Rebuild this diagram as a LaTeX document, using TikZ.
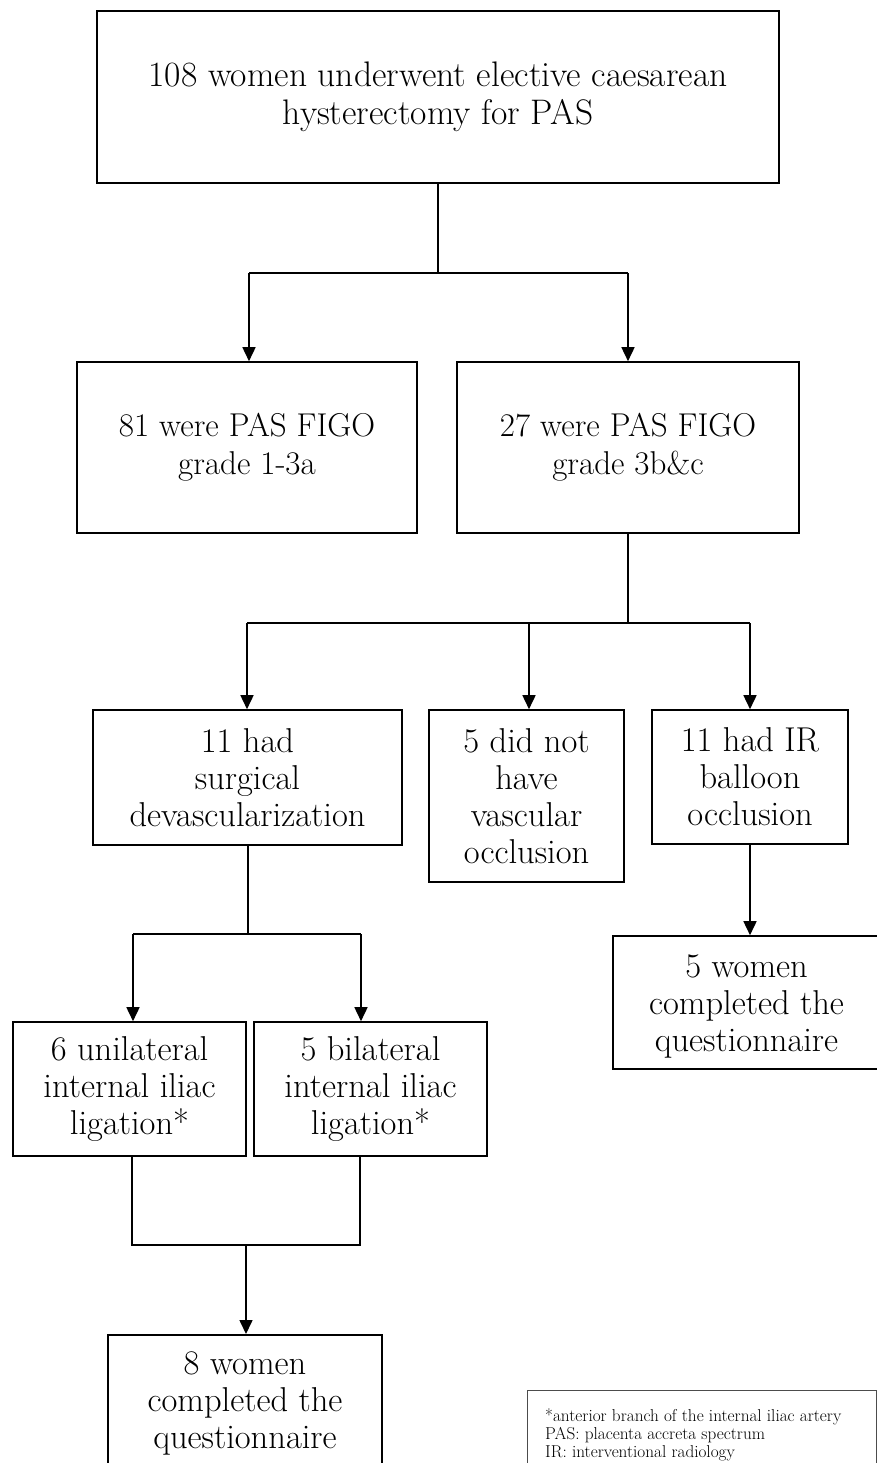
\documentclass[tikz,border=0pt]{standalone}
\usetikzlibrary{arrows.meta}
\begin{document}
\begin{tikzpicture}[x=1pt,y=-1pt,
  box/.style={draw,line width=1.6pt,rectangle,inner sep=0pt,align=center},
  topfont/.style={font=\fontsize{35.5}{38}\selectfont},
  upfont/.style={font=\fontsize{33}{38}\selectfont},
  lowfont/.style={font=\fontsize{34.5}{37}\selectfont},
  conn/.style={line width=1.6pt},
  arr/.style={line width=1.6pt,-{Triangle[length=14pt,width=13pt]}},
  legendbox/.style={draw=black!70,line width=0.8pt,rectangle,inner sep=0pt}]
\useasboundingbox (0,0) rectangle (877,1463);
\clip (0,0) rectangle (877,1463);
\fill[white] (0,0) rectangle (877,1463);
% nodes
\node[box,topfont,minimum width=682pt,minimum height=172pt] (top) at (438,97)
  {108 women underwent elective caesarean\\hysterectomy for PAS};
\node[box,upfont,minimum width=340pt,minimum height=171pt] (A) at (247,447.5)
  {81 were PAS FIGO\\grade 1-3a};
\node[box,upfont,minimum width=342pt,minimum height=171pt] (B) at (628,447.5)
  {27 were PAS FIGO\\grade 3b\&c};
\node[box,lowfont,minimum width=309pt,minimum height=135pt] (C) at (247.5,777.5)
  {11 had\\surgical\\devascularization};
\node[box,lowfont,minimum width=195pt,minimum height=172pt] (D) at (526.5,796)
  {5 did not\\have\\vascular\\occlusion};
\node[box,lowfont,minimum width=196pt,minimum height=134pt] (E) at (750,777)
  {11 had IR\\balloon\\occlusion};
\node[box,lowfont,minimum width=233pt,minimum height=134pt] (F) at (129.5,1089)
  {6 unilateral\\internal iliac\\ligation*};
\node[box,lowfont,minimum width=233pt,minimum height=134pt] (G) at (370.5,1089)
  {5 bilateral\\internal iliac\\ligation*};
\node[box,minimum width=274pt,minimum height=150pt,anchor=north] (H) at (245,1334) {};
\node[lowfont,align=center,inner sep=0pt] (Ht) at (245,1403)
  {8 women\\completed the\\questionnaire};
\node[box,minimum width=267pt,minimum height=133pt] (I) at (746.5,1002.5) {};
\node[lowfont,align=center,inner sep=0pt] (It) at (746.5,1006)
  {5 women\\completed the\\questionnaire};
\node[legendbox,minimum width=349pt,minimum height=100pt,anchor=north west] (L) at (527,1390) {};
\node[anchor=north west,align=left,inner sep=0pt,font=\fontsize{17.2}{18}\selectfont] (Lt) at (545,1408)
  {*anterior branch of the internal iliac artery\\PAS: placenta accreta spectrum\\IR: interventional radiology};
% junction coordinates
\coordinate (j1) at (438,273);
\coordinate (j1l) at (249,273);
\coordinate (j1r) at (628,273);
\coordinate (j2) at (628,623);
\coordinate (j2l) at (247,623);
\coordinate (j2m) at (529,623);
\coordinate (j2r) at (750,623);
\coordinate (j3) at (248,934);
\coordinate (j3l) at (133,934);
\coordinate (j3r) at (361,934);
\coordinate (j4l) at (132,1245);
\coordinate (j4r) at (360,1245);
\coordinate (j4) at (246,1245);
% connectors
\draw[conn] (top.south -| j1) -- (j1);
\draw[conn] (j1l) -- (j1r);
\draw[arr] (j1l) -- (j1l |- A.north);
\draw[arr] (j1r) -- (j1r |- B.north);
\draw[conn] (B.south -| j2) -- (j2);
\draw[conn] (j2l) -- (j2r);
\draw[arr] (j2l) -- (j2l |- C.north);
\draw[arr] (j2m) -- (j2m |- D.north);
\draw[arr] (j2r) -- (j2r |- E.north);
\draw[conn] (C.south -| j3) -- (j3);
\draw[conn] (j3l) -- (j3r);
\draw[arr] (j3l) -- (j3l |- F.north);
\draw[arr] (j3r) -- (j3r |- G.north);
\draw[conn] (F.south -| j4l) -- (j4l) -- (j4r) -- (G.south -| j4r);
\draw[arr] (j4) -- (j4 |- H.north);
\draw[arr] (E.south -| j2r) -- (j2r |- I.north);
\end{tikzpicture}
\end{document}
